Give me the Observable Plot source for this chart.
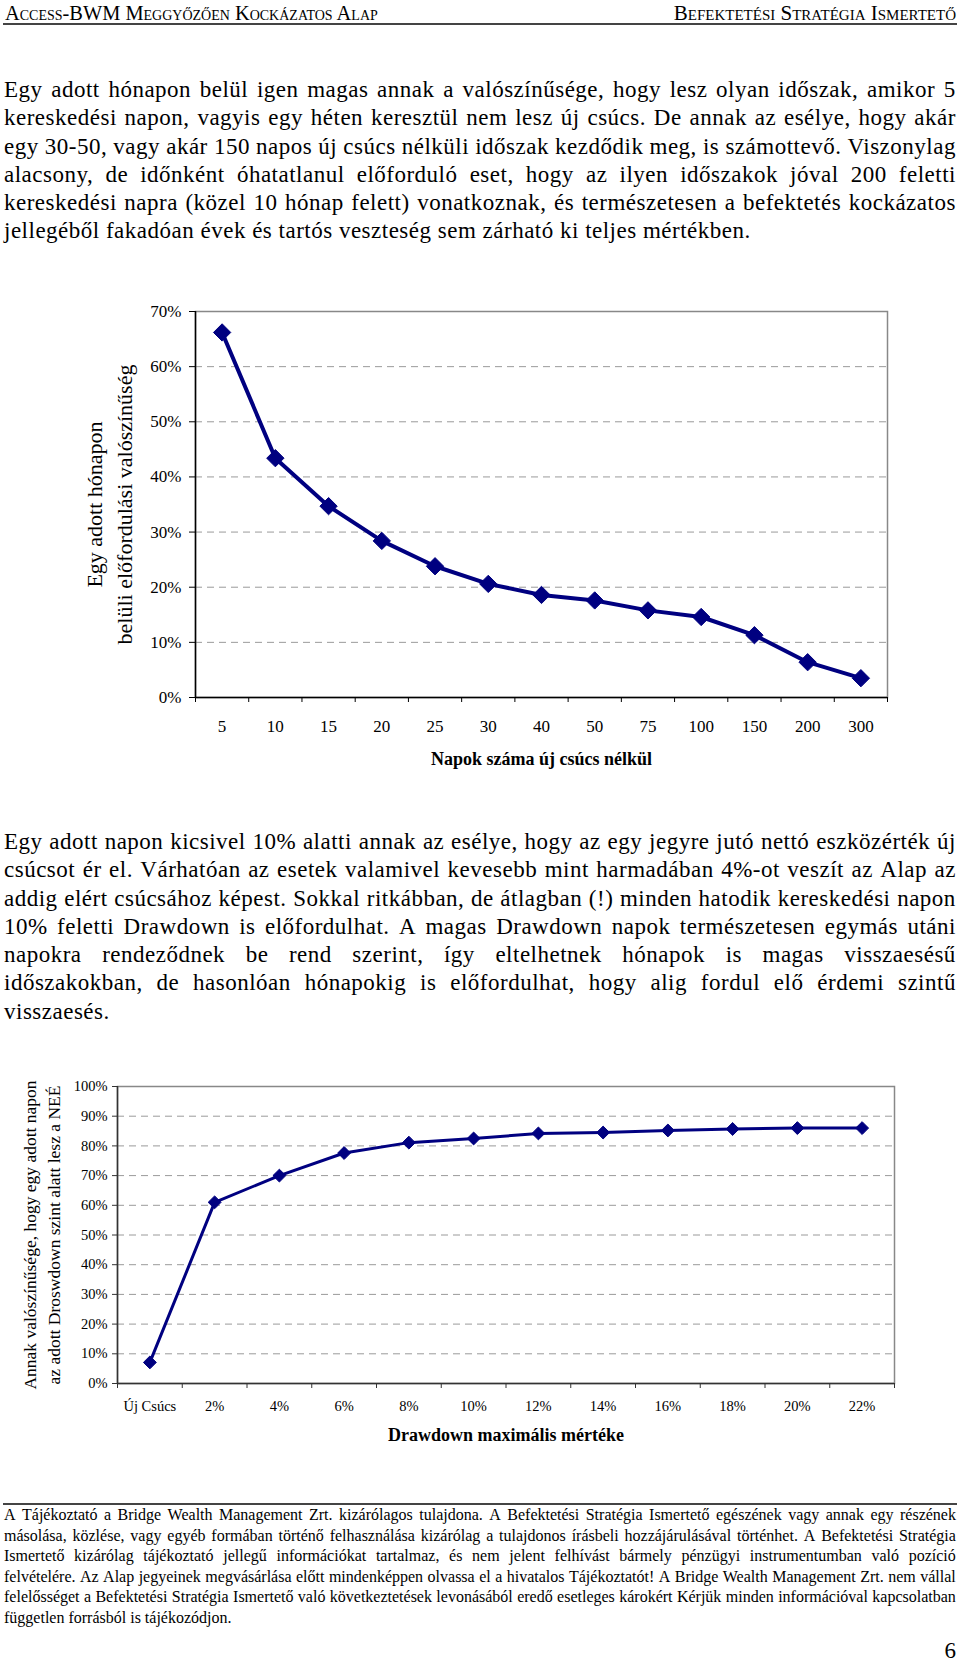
<!DOCTYPE html>
<html><head><meta charset="utf-8">
<script src="https://cdn.jsdelivr.net/npm/d3@7"></script>
<script src="https://cdn.jsdelivr.net/npm/@observablehq/plot@0.6"></script>
<style>
html,body{margin:0;padding:0;background:#fff}
body{width:960px;height:1663px;position:relative;overflow:hidden;font-family:"Liberation Serif",serif;color:#000}
.hdr{position:absolute;top:1px;font-family:"Liberation Serif",serif;font-size:20.4px;line-height:24px;font-variant:small-caps;white-space:nowrap}
.rule{position:absolute;left:3px;width:954px;height:0;border-top:2px solid #444}
.para{position:absolute;left:4px;width:952px;font-family:"Liberation Serif",serif;font-size:23px;line-height:28.3px;letter-spacing:0.5px}
.foot{position:absolute;left:4px;width:952px;font-family:"Liberation Serif",serif;font-size:16px;line-height:20.5px}
.j{display:flex;justify-content:space-between;white-space:nowrap}
.l{white-space:nowrap}
.chart{position:absolute;left:0}
</style></head>
<body>
<div class="hdr" style="left:5px">Access-BWM Meggyőzően Kockázatos Alap</div>
<div class="hdr" style="right:4px;font-size:21px">Befektetési Stratégia Ismertető</div>
<div class="rule" style="top:23px"></div>

<div class="para" style="top:76px">
<div class="j">Egy adott hónapon belül igen magas annak a valószínűsége, hogy lesz olyan időszak, amikor 5</div>
<div class="j">kereskedési napon, vagyis egy héten keresztül nem lesz új csúcs. De annak az esélye, hogy akár</div>
<div class="j">egy 30-50, vagy akár 150 napos új csúcs nélküli időszak kezdődik meg, is számottevő. Viszonylag</div>
<div class="j">alacsony, de időnként óhatatlanul előforduló eset, hogy az ilyen időszakok jóval 200 feletti</div>
<div class="j">kereskedési napra (közel 10 hónap felett) vonatkoznak, és természetesen a befektetés kockázatos</div>
<div class="l">jellegéből fakadóan évek és tartós veszteség sem zárható ki teljes mértékben.</div>
</div>

<div id="chart1" class="chart" style="top:290px"></div>

<div class="para" style="top:828px">
<div class="j">Egy adott napon kicsivel 10% alatti annak az esélye, hogy az egy jegyre jutó nettó eszközérték új</div>
<div class="j">csúcsot ér el. Várhatóan az esetek valamivel kevesebb mint harmadában 4%-ot veszít az Alap az</div>
<div class="j">addig elért csúcsához képest. Sokkal ritkábban, de átlagban (!) minden hatodik kereskedési napon</div>
<div class="j">10% feletti Drawdown is előfordulhat. A magas Drawdown napok természetesen egymás utáni</div>
<div class="j">napokra rendeződnek be rend szerint, így eltelhetnek hónapok is magas visszaesésű</div>
<div class="j">időszakokban, de hasonlóan hónapokig is előfordulhat, hogy alig fordul elő érdemi szintű</div>
<div class="l">visszaesés.</div>
</div>

<div id="chart2" class="chart" style="top:1060px"></div>

<div class="rule" style="top:1503px"></div>
<div class="foot" style="top:1505px">
<div class="j">A Tájékoztató a Bridge Wealth Management Zrt. kizárólagos tulajdona. A Befektetési Stratégia Ismertető egészének vagy annak egy részének</div>
<div class="j">másolása, közlése, vagy egyéb formában történő felhasználása kizárólag a tulajdonos írásbeli hozzájárulásával történhet. A Befektetési Stratégia</div>
<div class="j">Ismertető kizárólag tájékoztató jellegű információkat tartalmaz, és nem jelent felhívást bármely pénzügyi instrumentumban való pozíció</div>
<div class="j">felvételére. Az Alap jegyeinek megvásárlása előtt mindenképpen olvassa el a hivatalos Tájékoztatót! A Bridge Wealth Management Zrt. nem vállal</div>
<div class="j">felelősséget a Befektetési Stratégia Ismertető való következtetések levonásából eredő esetleges károkért Kérjük minden információval kapcsolatban</div>
<div class="l">független forrásból is tájékozódjon.</div>
</div>
<div style="position:absolute;right:4px;top:1637px;font-size:23px;line-height:28px">6</div>

<script>
// turn each justified line into words spread across the full width
document.querySelectorAll(".j").forEach(el => {
  const words = el.textContent.trim().split(/\s+/);
  el.textContent = "";
  words.forEach(w => { const s = document.createElement("span"); s.textContent = w; el.appendChild(s); });
});

// Chart 1 data
const napok = ["5","10","15","20","25","30","40","50","75","100","150","200","300"];
const valoszinuseg = [0.662,0.434,0.347,0.284,0.238,0.206,0.186,0.176,0.158,0.146,0.113,0.064,0.035];
const yTicks1 = [0,0.1,0.2,0.3,0.4,0.5,0.6,0.7];
const xTitle1 = "Napok száma új csúcs nélkül";
const yTitle1 = "Egy adott hónapon\nbelüli előfordulási valószínűség";

// Chart 2 data
const drawdown = ["Új Csúcs","2%","4%","6%","8%","10%","12%","14%","16%","18%","20%","22%"];
const alattValoszinuseg = [0.071,0.610,0.700,0.776,0.811,0.825,0.842,0.845,0.852,0.857,0.860,0.860];
const yTicks2 = [0,0.1,0.2,0.3,0.4,0.5,0.6,0.7,0.8,0.9,1.0];
const xTitle2 = "Drawdown maximális mértéke";
const yTitle2 = "Annak valószínűsége, hogy egy adott napon\naz adott Droswdown szint alatt lesz a NEÉ";

const NAVY = "#000080";
const FONT = "Liberation Serif, serif";

function lineChart(o) {
  const n = o.cats.length;
  const data = o.cats.map((c, i) => ({pos: i + 0.5, cat: c, v: o.vals[i]}));
  const yMax = o.yTicks[o.yTicks.length - 1];
  const grid = o.yTicks.filter(t => t > 0 && t < yMax);
  const edges = d3.range(n + 1);
  const centers = d3.range(n).map(i => i + 0.5);
  return Plot.plot({
    width: 960, height: o.height,
    marginLeft: o.ml, marginRight: o.mr, marginTop: o.mt, marginBottom: o.mb,
    style: {fontFamily: FONT, fontSize: o.tickFont + "px", background: "transparent", color: "#000"},
    x: {type: "linear", domain: [0, n], axis: null},
    y: {domain: [0, yMax], axis: null},
    marks: [
      Plot.ruleY(grid, {stroke: "#9a9a9a", strokeDasharray: "7,5", strokeWidth: 1}),
      Plot.frame({stroke: "#888", strokeWidth: 1.5}),
      Plot.ruleX([0], {stroke: o.axisColor, strokeWidth: 1.5}),
      Plot.ruleY([0], {stroke: o.axisColor, strokeWidth: 1.5}),
      Plot.axisY({ticks: o.yTicks, tickFormat: d3.format(".0%"), tickSize: o.yTickSize, tickPadding: o.yPad, label: null, fontSize: o.tickFont, fontFamily: FONT, stroke: o.axisColor}),
      Plot.axisX({ticks: edges, tickFormat: () => "", tickSize: 5, label: null, stroke: o.axisColor}),
      Plot.axisX({ticks: centers, tickFormat: d => o.cats[Math.floor(d)], tickSize: 0, tickPadding: o.xPad, label: null, fontSize: o.tickFont, fontFamily: FONT}),
      Plot.line(data, {x: "pos", y: "v", stroke: NAVY, strokeWidth: o.lw, strokeLinejoin: "round"}),
      Plot.dot(data, {x: "pos", y: "v", symbol: "diamond2", r: o.r, fill: NAVY, stroke: NAVY, strokeWidth: 1}),
      Plot.text([o.xTitle], {text: d => d, frameAnchor: "bottom", dy: o.xTitleDy, fontWeight: "bold", fontSize: o.titleFont, fontFamily: FONT, lineAnchor: "middle"}),
      Plot.text([o.yTitle], {text: d => d, frameAnchor: "left", dx: o.yTitleDx, rotate: -90, fontSize: o.yTitleFont, fontFamily: FONT, lineHeight: o.yLineHeight, textAnchor: "middle", lineAnchor: "middle"})
    ]
  });
}

document.getElementById("chart1").appendChild(lineChart({
  cats: napok, vals: valoszinuseg, yTicks: yTicks1,
  height: 490, ml: 195, mr: 73, mt: 21, mb: 83,
  tickFont: 17, yTickSize: 6, yPad: 8, xPad: 22, lw: 4, r: 7.8,
  axisColor: "#000",
  xTitle: xTitle1, titleFont: 18, xTitleDy: 62,
  yTitle: yTitle1, yTitleDx: -88, yTitleFont: 22, yLineHeight: 1.36
}));

document.getElementById("chart2").appendChild(lineChart({
  cats: drawdown, vals: alattValoszinuseg, yTicks: yTicks2,
  height: 390, ml: 117, mr: 66, mt: 26, mb: 67,
  tickFont: 14.5, yTickSize: 5, yPad: 5, xPad: 17, lw: 3, r: 5.8,
  axisColor: "#333",
  xTitle: xTitle2, titleFont: 18, xTitleDy: 52,
  yTitle: yTitle2, yTitleDx: -77, yTitleFont: 17.5, yLineHeight: 1.39
}));
</script>
</body></html>
